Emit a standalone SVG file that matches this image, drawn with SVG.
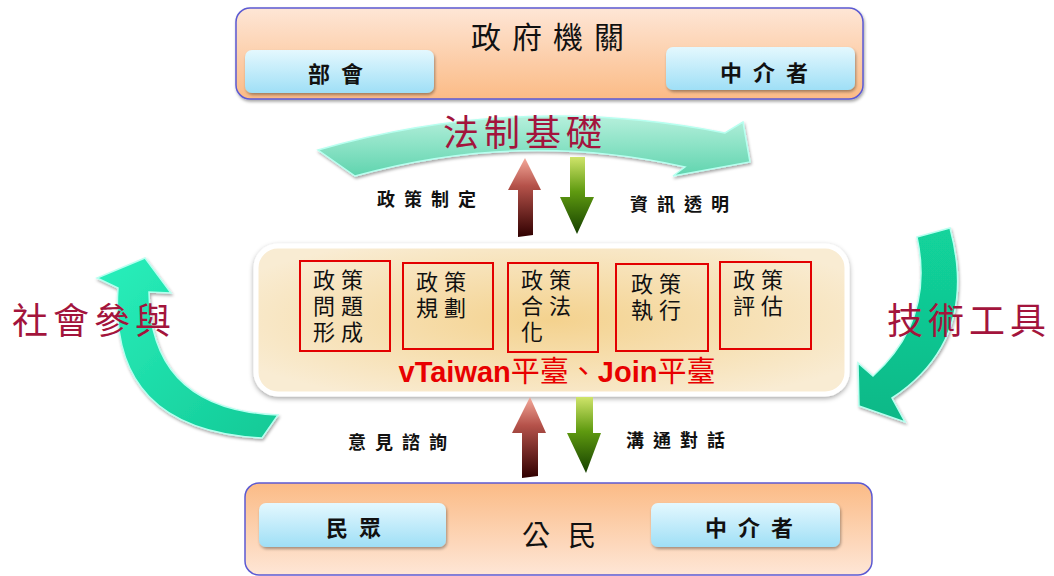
<svg xmlns="http://www.w3.org/2000/svg" width="1054" height="576" viewBox="0 0 1054 576">
<defs>
<style>
.cjk{font-family:"Noto Sans CJK TC","Noto Sans CJK SC",sans-serif}
.lbl{font-family:"Noto Sans CJK TC","Noto Sans CJK SC",sans-serif;font-size:18px;font-weight:bold;fill:#111;letter-spacing:9px}
.btn{font-family:"Noto Sans CJK TC","Noto Sans CJK SC",sans-serif;font-size:22px;font-weight:bold;fill:#111;letter-spacing:11px}
.big{font-family:"Noto Sans CJK TC","Noto Sans CJK SC",sans-serif;font-size:36px;fill:#a3143c;letter-spacing:5px}
.stage{fill:none;stroke:#e30000;stroke-width:2}
.st{font-family:"Noto Sans CJK TC","Noto Sans CJK SC",sans-serif;font-size:22px;fill:#111;letter-spacing:6px}
.bevel{stroke:#b8fff0;stroke-width:1.5}
</style>
<linearGradient id="gTop" x1="0" y1="0" x2="0" y2="1"><stop offset="0" stop-color="#fee6d6"/><stop offset="1" stop-color="#fbbb86"/></linearGradient>
<linearGradient id="gBot" x1="0" y1="0" x2="0" y2="1"><stop offset="0" stop-color="#fbbb86"/><stop offset="1" stop-color="#fee6d6"/></linearGradient>
<linearGradient id="gBtn" x1="0" y1="0" x2="0" y2="1"><stop offset="0" stop-color="#e4f8fe"/><stop offset="1" stop-color="#9fdff6"/></linearGradient>
<radialGradient id="gMid" cx="0.5" cy="0.5" r="0.6"><stop offset="0" stop-color="#f4d28e"/><stop offset="1" stop-color="#f9ecd3"/></radialGradient>
<linearGradient id="gArcTop" x1="0" y1="0" x2="0" y2="1"><stop offset="0" stop-color="#b6f0dc"/><stop offset="1" stop-color="#5fd4ae"/></linearGradient>
<linearGradient id="gArcL" x1="0" y1="0" x2="1" y2="1"><stop offset="0" stop-color="#2af0bc"/><stop offset="1" stop-color="#12c996"/></linearGradient>
<linearGradient id="gArcR" x1="0" y1="0" x2="0" y2="1"><stop offset="0" stop-color="#12d49c"/><stop offset="1" stop-color="#0fb887"/></linearGradient>
<linearGradient id="gUp" x1="0" y1="0" x2="0" y2="1"><stop offset="0" stop-color="#f4a99a"/><stop offset="0.35" stop-color="#b5524a"/><stop offset="1" stop-color="#300000"/></linearGradient>
<linearGradient id="gDown" x1="0" y1="0" x2="0" y2="1"><stop offset="0" stop-color="#cfe46a"/><stop offset="0.45" stop-color="#5f9a10"/><stop offset="1" stop-color="#154000"/></linearGradient>
<filter id="sh" x="-10%" y="-10%" width="120%" height="130%"><feDropShadow dx="1" dy="2" stdDeviation="1.5" flood-color="#000" flood-opacity="0.35"/></filter>
<filter id="sh2" x="-10%" y="-10%" width="120%" height="130%"><feDropShadow dx="0" dy="2" stdDeviation="2.5" flood-color="#000" flood-opacity="0.35"/></filter>
</defs>
<rect width="1054" height="576" fill="#ffffff"/>

<g id="gov">
<rect x="236" y="8" width="627" height="91" rx="14" fill="url(#gTop)" stroke="#5c5ad2" stroke-width="1.5" filter="url(#sh)"/>
<text class="cjk" x="471" y="48" font-size="30" fill="#111" letter-spacing="11">政府機關</text>
<rect x="245" y="50" width="189" height="43" rx="7" fill="url(#gBtn)" filter="url(#sh)"/>
<text class="btn" x="308" y="82">部會</text>
<rect x="666" y="47" width="189" height="43" rx="7" fill="url(#gBtn)" filter="url(#sh)"/>
<text class="btn" x="720" y="81">中介者</text>
</g>

<g id="citizen">
<rect x="245" y="483" width="627" height="92" rx="14" fill="url(#gBot)" stroke="#5c5ad2" stroke-width="1.5"/>
<rect x="259" y="503" width="187" height="44" rx="7" fill="url(#gBtn)" filter="url(#sh)"/>
<text class="btn" x="326" y="536">民眾</text>
<text class="cjk" x="522" y="546" font-size="28" fill="#111" letter-spacing="18">公民</text>
<rect x="651" y="503" width="189" height="44" rx="7" fill="url(#gBtn)" filter="url(#sh)"/>
<text class="btn" x="705" y="536">中介者</text>
</g>

<g id="platform">
<rect x="256" y="246" width="591" height="148" rx="22" fill="url(#gMid)" stroke="#ffffff" stroke-width="5" filter="url(#sh2)"/>
<g id="stage1"><rect class="stage" x="300" y="261" width="90" height="90"/>
<text class="st" x="313" y="288">政策</text><text class="st" x="313" y="314">問題</text><text class="st" x="313" y="340">形成</text></g>
<g id="stage2"><rect class="stage" x="403" y="263" width="90" height="86"/>
<text class="st" x="416" y="290">政策</text><text class="st" x="416" y="316">規劃</text></g>
<g id="stage3"><rect class="stage" x="508" y="263" width="90" height="89"/>
<text class="st" x="521" y="288">政策</text><text class="st" x="521" y="314">合法</text><text class="st" x="521" y="340">化</text></g>
<g id="stage4"><rect class="stage" x="616" y="264" width="92" height="87"/>
<text class="st" x="631" y="292">政策</text><text class="st" x="631" y="318">執行</text></g>
<g id="stage5"><rect class="stage" x="720" y="262" width="91" height="87"/>
<text class="st" x="733" y="288">政策</text><text class="st" x="733" y="314">評估</text></g>
<text x="557" y="382" text-anchor="middle" font-family="Liberation Sans, 'Noto Sans CJK TC', sans-serif" font-size="29" font-weight="bold" fill="#e80000">vTaiwan<tspan font-family="'Noto Sans CJK TC', sans-serif" font-weight="normal">平臺、</tspan>Join<tspan font-family="'Noto Sans CJK TC', sans-serif" font-weight="normal">平臺</tspan></text>
</g>

<g id="connectors">
<path class="bevel" d="M318,150 Q520,92 725,133 L743,122 L750,162 L673,176 L685,167 Q520,130 355,176 Z" fill="url(#gArcTop)" filter="url(#sh)"/>
<path class="bevel" d="M145,258 L171,293 L149,292 Q150,410 278,415 L262,438 Q108,430 118,288 L97,278 Z" fill="url(#gArcL)" filter="url(#sh)"/>
<path class="bevel" d="M917,237 L950,228 Q980,340 892,398 L905,422 L859,406 L858,363 L873,376 Q935,320 917,237 Z" fill="url(#gArcR)" filter="url(#sh)"/>
<path d="M525,158 L541,190 L533,190 L533,235 L518,237 L518,190 L508,190 Z" fill="url(#gUp)"/>
<path d="M570,157 L585,157 L585,197 L594,197 L577,234 L560,197 L570,197 Z" fill="url(#gDown)"/>
<path d="M530,397 L546,433 L538,433 L538,476 L522,478 L522,433 L512,433 Z" fill="url(#gUp)"/>
<path d="M576,397 L593,397 L593,433 L601,433 L586,473 L567,433 L576,433 Z" fill="url(#gDown)"/>
</g>

<g id="labels">
<text class="big" x="443" y="146">法制基礎</text>
<text class="big" x="12" y="334">社會參與</text>
<text class="big" x="887" y="334" letter-spacing="4">技術工具</text>
<text class="lbl" x="377" y="206">政策制定</text>
<text class="lbl" x="630" y="211">資訊透明</text>
<text class="lbl" x="348" y="449">意見諮詢</text>
<text class="lbl" x="626" y="447">溝通對話</text>
</g>
</svg>
